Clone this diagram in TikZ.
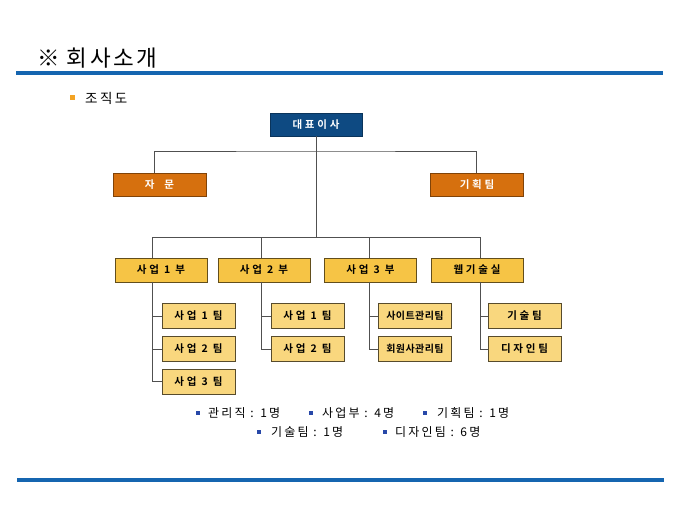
\documentclass[tikz,border=0pt]{standalone}
\usepackage{fontspec}
\setmainfont{Noto Sans CJK KR}
\newfontfamily\kb[LetterSpace=26]{Noto Sans CJK KR Bold}
\newfontfamily\kbt[LetterSpace=4]{Noto Sans CJK KR Bold}
\newfontfamily\kr[LetterSpace=18]{Noto Sans CJK KR}
\newfontfamily\kt[LetterSpace=12]{Noto Sans CJK KR}
\definecolor{navy}{HTML}{0E4A82}
\definecolor{rust}{HTML}{D6700E}
\definecolor{gold}{HTML}{F6C445}
\definecolor{pale}{HTML}{F9D77E}
\definecolor{barblue}{HTML}{1565B0}
\definecolor{linegray}{HTML}{505050}
\definecolor{bulletor}{HTML}{F3A324}
\definecolor{bulletbl}{HTML}{2848A8}
\tikzset{
  x=1pt, y=-1pt,
  boxbase/.style={draw=#1, line width=0.7pt, inner sep=0pt, font=\kb\fontsize{10.5}{12}\selectfont},
  topbox/.style={boxbase=navy!70!black, fill=navy, text=white, minimum width=92pt, minimum height=23pt},
  sidebox/.style={boxbase=rust!60!black, fill=rust, text=white, minimum width=93pt, minimum height=23pt},
  deptbox/.style={boxbase=gold!40!black, fill=gold, text=black, minimum width=92pt, minimum height=24pt},
  teambox/.style={boxbase=pale!35!black, fill=pale, text=black, minimum width=73pt, minimum height=25pt},
  tighttext/.style={font=\kbt\fontsize{10}{12}\selectfont},
  conn/.style={draw=linegray, line width=0.8pt},
  bar/.style={draw=barblue, line width=4pt},
  legend/.style={anchor=west, inner sep=0pt, font=\kr\fontsize{12}{14}\selectfont},
  sq/.style={fill=bulletbl, minimum size=4pt, inner sep=0pt}
}
\begin{document}
\begin{tikzpicture}
\useasboundingbox (0,0) rectangle (680,510);
% header
\node[anchor=west, inner sep=0pt, font=\kt\fontsize{22.5}{25}\selectfont] (title) at (37,58) {※\hspace{7pt}회사소개};
\draw[bar] (16,73) coordinate (bl) -- (663,73) coordinate (br);
\node[fill=bulletor, minimum size=5pt, inner sep=0pt] (b0) at (72,98) {};
\node[anchor=west, inner sep=0pt, font=\kr\fontsize{13.5}{15}\selectfont] (sub) at (85,98) {조직도};

% boxes
\node[topbox] (ceo) at (316,124.5) {대표이사};
\node[sidebox] (adv) at (159.5,184.5) {자\hspace{10pt}문};
\node[sidebox] (plan) at (477,184.5) {기획팀};
\node[deptbox] (d1) at (161,270) {사업 1 부};
\node[deptbox] (d2) at (264,270) {사업 2 부};
\node[deptbox] (d3) at (370.5,270) {사업 3 부};
\node[deptbox] (d4) at (477,270) {웹기술실};

\node[teambox] (t11) at (198.5,316) {사업 1 팀};
\node[teambox] (t12) at (198.5,349) {사업 2 팀};
\node[teambox] (t13) at (198.5,381.5) {사업 3 팀};
\node[teambox] (t21) at (307.5,316) {사업 1 팀};
\node[teambox] (t22) at (307.5,349) {사업 2 팀};
\node[teambox, tighttext] (t31) at (415,316) {사이트관리팀};
\node[teambox, tighttext] (t32) at (415,349) {회원사관리팀};
\node[teambox] (t41) at (524.5,316) {기술팀};
\node[teambox] (t42) at (524.5,349) {디자인팀};

% bus coordinates
\coordinate (busA) at (316,151);
\coordinate (busB) at (316,237.5);
\coordinate (x1) at (152,0);
\coordinate (x2) at (261,0);
\coordinate (x3) at (369,0);
\coordinate (x4) at (480,0);

% connectors
\draw[conn] (ceo.south) -- (busB);
\draw[conn] (adv.north -| 154,0) |- (busA) -| (plan.north -| 476,0);
\draw[conn] (d1.north -| x1) |- (busB) -| (d4.north -| x4);
\draw[conn] (d2.north -| x2) -- (busB -| x2);
\draw[conn] (d3.north -| x3) -- (busB -| x3);

\draw[conn] (d1.south -| x1) |- (t13.west);
\draw[conn] (t11.west) -- (t11.west -| x1);
\draw[conn] (t12.west) -- (t12.west -| x1);
\draw[conn] (d2.south -| x2) |- (t22.west);
\draw[conn] (t21.west) -- (t21.west -| x2);
\draw[conn] (d3.south -| x3) |- (t32.west);
\draw[conn] (t31.west) -- (t31.west -| x3);
\draw[conn] (d4.south -| x4) |- (t42.west);
\draw[conn] (t41.west) -- (t41.west -| x4);

% legend
\node[sq] (s1) at (198,413) {};
\node[legend] (l1) at (208,413) {관리직 : 1명};
\node[sq] (s2) at (311,413) {};
\node[legend] (l2) at (322,413) {사업부 : 4명};
\node[sq] (s3) at (425,413) {};
\node[legend] (l3) at (437,413) {기획팀 : 1명};
\node[sq] (s4) at (259,432) {};
\node[legend] (l4) at (271,432) {기술팀 : 1명};
\node[sq] (s5) at (385,432) {};
\node[legend] (l5) at (395,432) {디자인팀 : 6명};

% bottom bar
\draw[barblue, line width=4.5pt] (17,480) coordinate (fl) -- (664,480) coordinate (fr);
\end{tikzpicture}
\end{document}
